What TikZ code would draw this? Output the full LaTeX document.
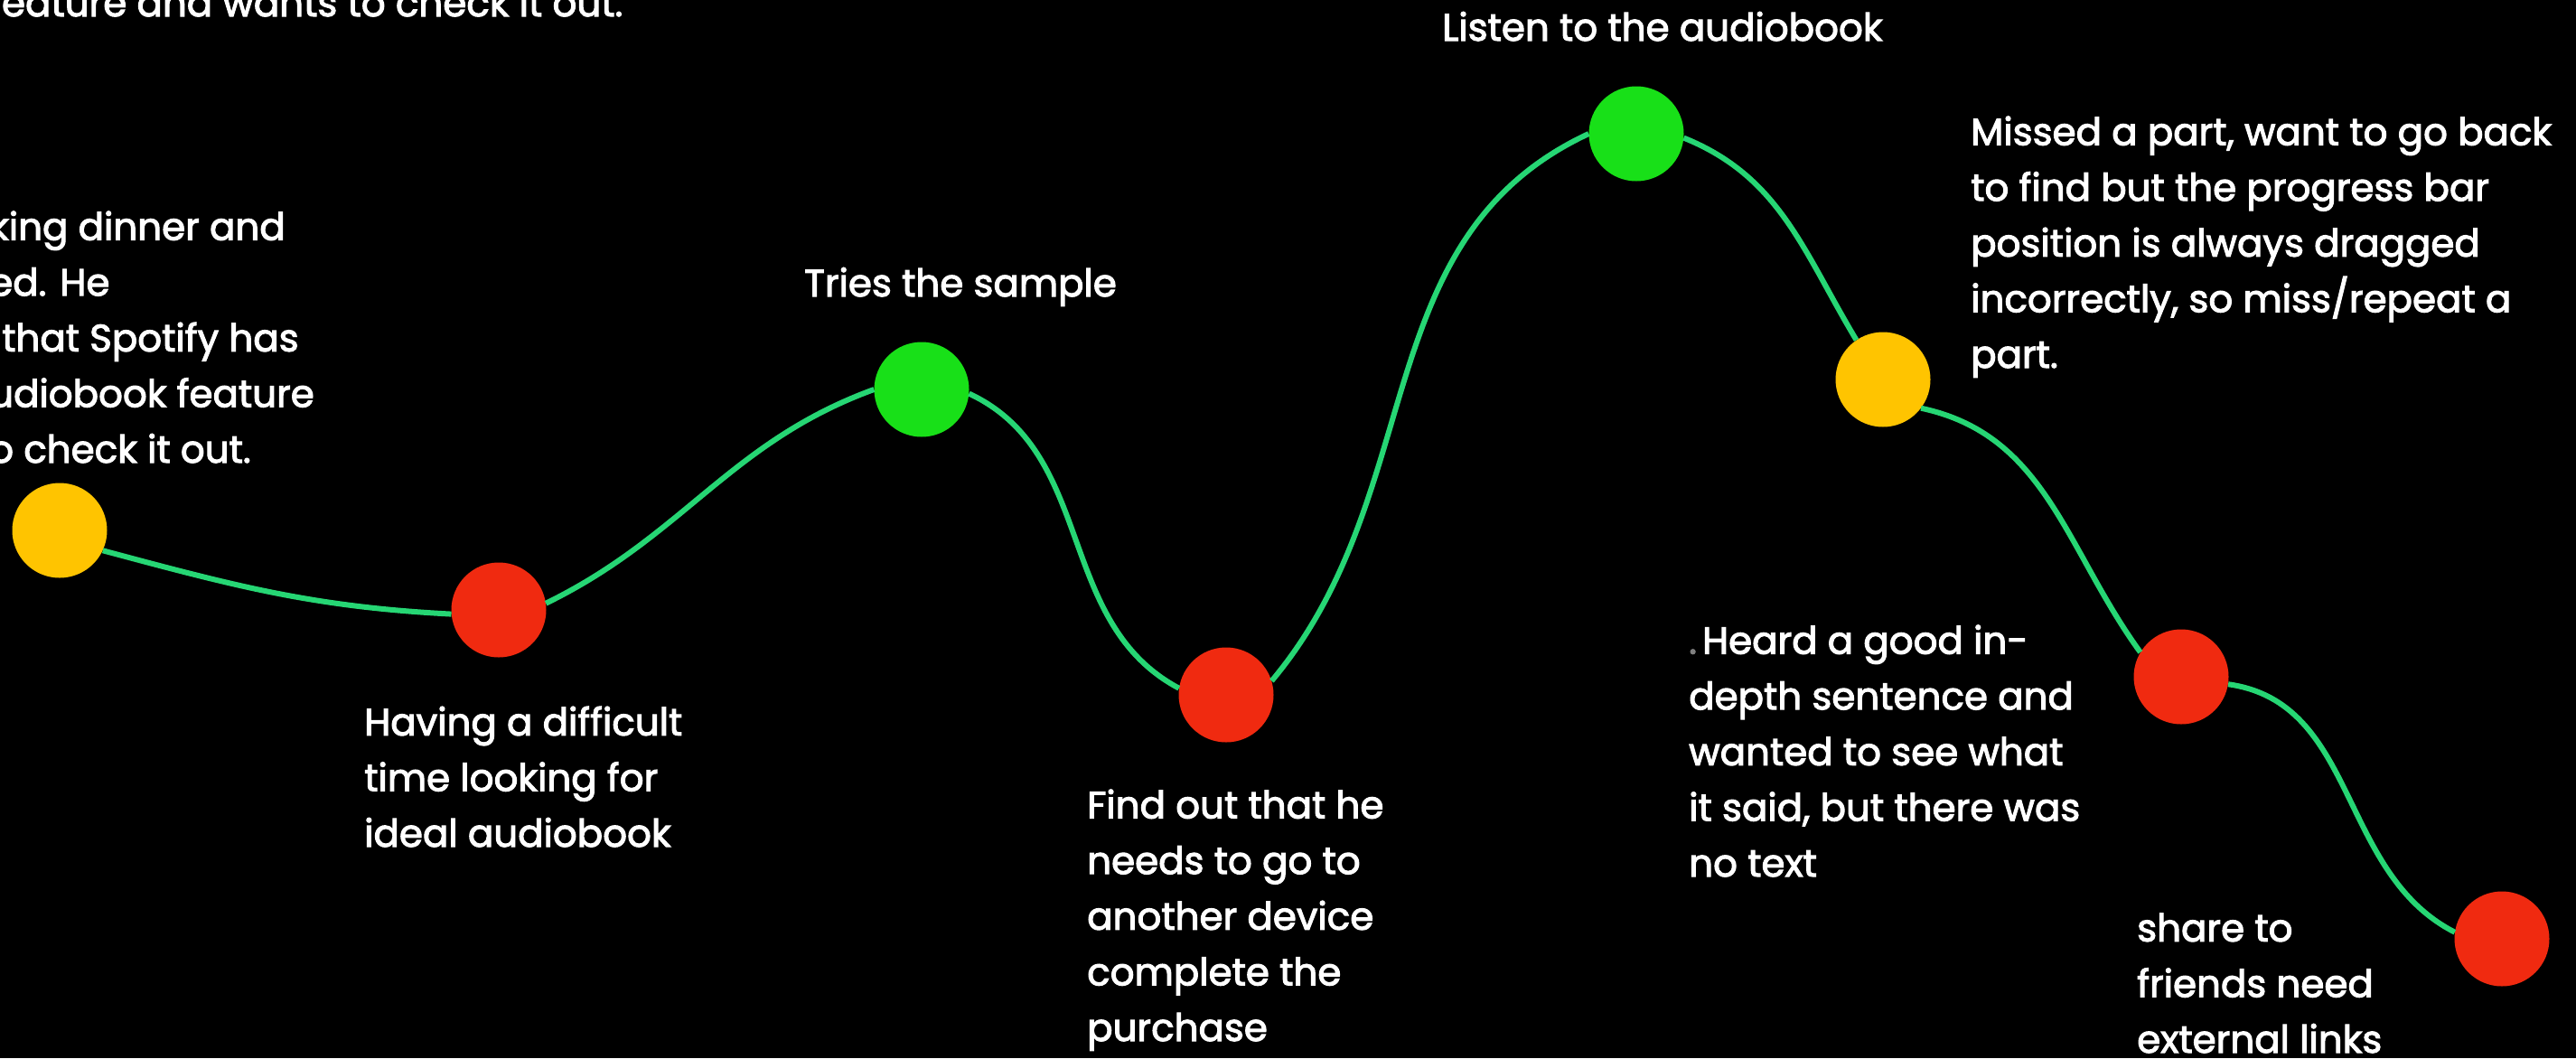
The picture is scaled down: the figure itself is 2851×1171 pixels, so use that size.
\documentclass[tikz,border=0pt]{standalone}
\usepackage{fontspec}
\setmainfont{Poppins}[FakeBold=2.5]
\usetikzlibrary{positioning}
\definecolor{pathgreen}{RGB}{38,214,116}
\definecolor{dotgreen}{RGB}{24,224,24}
\definecolor{dotyellow}{RGB}{255,196,0}
\definecolor{dotred}{RGB}{240,42,16}

\begin{document}
\begin{tikzpicture}[
  x=1pt, y=1pt,
  dot/.style={circle, minimum size=105pt, inner sep=0pt},
  good/.style={dot, fill=dotgreen},
  meh/.style={dot, fill=dotyellow},
  pain/.style={dot, fill=dotred},
  note/.style={text=white, align=left, inner sep=0pt, anchor=base west,
               font=\fontsize{42}{61.6}\selectfont},
  journey/.style={line width=6pt, color=pathgreen}
]
  \useasboundingbox (0,0) rectangle (2851,-1171);
  \fill[black] (0,0) rectangle (2851,-1171);
  \clip (0,0) rectangle (2851,-1171);

  % stages of the journey
  \node[meh]  (start)    at (66,-587)   {};
  \node[pain] (search)   at (552,-675)  {};
  \node[good] (sample)   at (1020,-431) {};
  \node[pain] (purchase) at (1357,-769) {};
  \node[good] (listen)   at (1811,-148) {};
  \node[meh]  (scrub)    at (2084,-420) {};
  \node[pain] (notext)   at (2414,-749) {};
  \node[pain] (share)    at (2769,-1039) {};

  \draw[journey] (start.-25) to[out=-15,in=177] (search.185)
    (search.8) to[out=26,in=200] (sample.180)
    (sample.-5) to[out=-25,in=152] (purchase.172)
    (purchase.17) to[out=50,in=205] (listen.180)
    (listen.-5) to[out=-22,in=121] (scrub.124)
    (scrub.-37) to[out=-12,in=126] (notext.149)
    (notext.-9) to[out=-8,in=153] (share.172);

  % what happens at each stage (placed at the baseline of the last line)
  \node[note] (earliertext) at (-12,-18) {feature and wants to check it out.};
  \node[note] (starttext) at (-12,-512) {king dinner and\\ed. He\\\hspace*{14pt}that Spotify has\\udiobook feature\\o check it out.};
  \node[note] (searchtext) at (403,-937) {Having a difficult\\time looking for\\ideal audiobook};
  \node[note] (sampletext) at (890,-328) {Tries the sample};
  \node[note] (purchasetext) at (1203,-1152) {Find out that he\\needs to go to\\another device\\complete the\\purchase};
  \node[note] (listentext) at (1596,-45) {Listen to the audiobook};
  \node[note] (scrubtext) at (2181,-407) {Missed a part, want to go back\\to find but the progress bar\\position is always dragged\\incorrectly, so miss/repeat a\\part.};
  \node[note] (notexttext) at (1869,-970) {{\color{gray}.}\hspace{6pt}Heard a good in-\\depth sentence and\\wanted to see what\\it said, but there was\\no text};
  \node[note] (sharetext) at (2365,-1165) {share to\\friends need\\external links};
\end{tikzpicture}
\end{document}
